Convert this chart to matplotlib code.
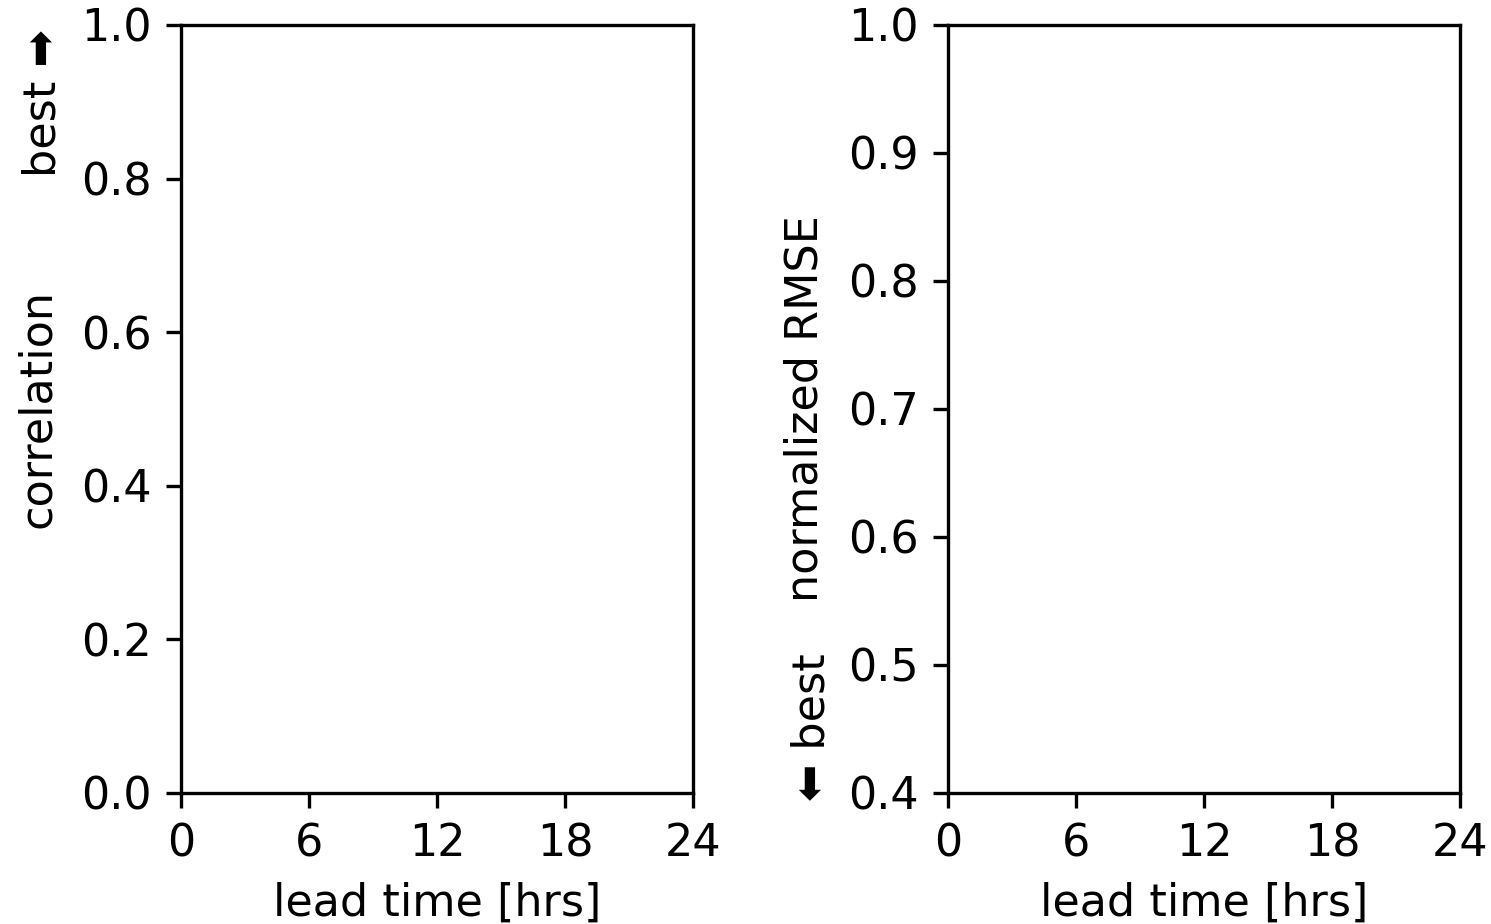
import matplotlib
matplotlib.use('Agg')
import matplotlib.pyplot as plt

xticks = [0, 6, 12, 18, 24]
corr_ticks = [0.0, 0.2, 0.4, 0.6, 0.8, 1.0]
rmse_ticks = [0.4, 0.5, 0.6, 0.7, 0.8, 0.9, 1.0]

fs = 10.7
plt.rcParams['xtick.labelsize'] = fs
plt.rcParams['ytick.labelsize'] = fs
plt.rcParams['axes.labelsize'] = fs

fig = plt.figure(figsize=(4.97, 3.08), dpi=300)
ax1 = fig.add_axes([0.1214, 0.1418, 0.3434, 0.8312])
ax2 = fig.add_axes([0.6358, 0.1418, 0.3434, 0.8312])

# correlation panel
ax1.set_xlim(0, 24)
ax1.set_ylim(0, 1)
ax1.set_xticks(xticks)
ax1.set_yticks(corr_ticks)
ax1.set_xlabel('lead time [hrs]')
ax1.set_ylabel('correlation')
ax1.yaxis.set_label_coords(-0.238, 0.5)
ax1.text(-0.269, 0.995, 'best \u27a1', transform=ax1.transAxes, rotation=90,
         ha='center', va='top', fontsize=fs)

# rmse panel
ax2.set_xlim(0, 24)
ax2.set_ylim(0.4, 1.0)
ax2.set_xticks(xticks)
ax2.set_yticks(rmse_ticks)
ax2.set_xlabel('lead time [hrs]')
ax2.set_ylabel('normalized RMSE')
ax2.yaxis.set_label_coords(-0.238, 0.5)
ax2.text(-0.266, -0.01, '\u2b05 best', transform=ax2.transAxes, rotation=90,
         ha='center', va='bottom', fontsize=fs)

fig.savefig('out.png', dpi=300)
